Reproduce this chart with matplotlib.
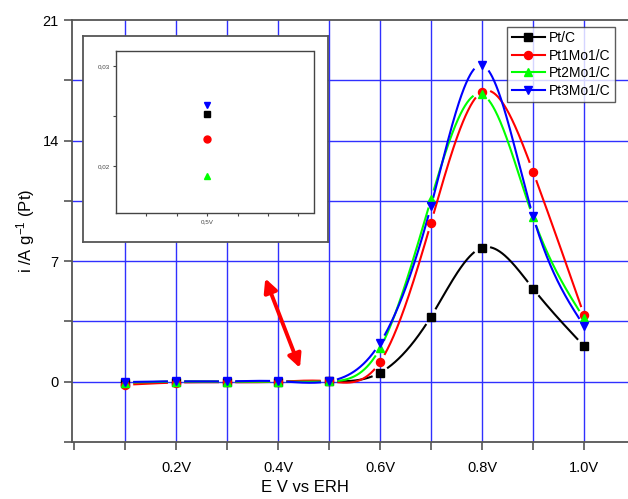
import numpy as np
import matplotlib
matplotlib.use("Agg")
import matplotlib.pyplot as plt
from matplotlib.lines import Line2D

plt.rcParams['font.family'] = ['Liberation Sans', 'DejaVu Sans']
plt.rcParams['mathtext.default'] = 'regular'

# ---------------- data ----------------
potential = [0.1, 0.2, 0.3, 0.4, 0.5, 0.6, 0.7, 0.8, 0.9, 1.0]
xtick_vals = [0.2, 0.4, 0.6, 0.8, 1.0]
xtick_labels = ["0.2V", "0.4V", "0.6V", "0.8V", "1.0V"]
ytick_vals = [0, 7, 14, 21]

series_names = ["Pt/C", "Pt1Mo1/C", "Pt2Mo1/C", "Pt3Mo1/C"]
pt_c     = [-0.05, 0.0, 0.0, 0.0, 0.0255, 0.52, 3.78, 7.78, 5.41, 2.07]
pt1mo1_c = [-0.18, -0.05, -0.03, 0.0, 0.023, 1.14, 9.23, 16.83, 12.2, 3.88]
pt2mo1_c = [-0.05, 0.0, 0.0, 0.0, 0.019, 1.94, 10.59, 16.68, 9.56, 3.68]
pt3mo1_c = [-0.02, 0.02, 0.02, 0.03, 0.0261, 2.25, 10.2, 18.38, 9.62, 3.24]
series_values = [pt_c, pt1mo1_c, pt2mo1_c, pt3mo1_c]
colors = ["#000000", "#ff0000", "#00ff00", "#0000ff"]
markers = ["s", "o", "^", "v"]

# inset: values at 0.5 V
inset_x = [0.5, 0.5, 0.5, 0.5]
inset_vals = [0.0252, 0.0227, 0.0190, 0.0261]


def natural_spline(x, y, xs):
    x = np.asarray(x, float); y = np.asarray(y, float)
    n = len(x)
    h = np.diff(x)
    A = np.zeros((n, n)); b = np.zeros(n)
    A[0, 0] = 1; A[-1, -1] = 1
    for i in range(1, n - 1):
        A[i, i - 1] = h[i - 1]
        A[i, i] = 2 * (h[i - 1] + h[i])
        A[i, i + 1] = h[i]
        b[i] = 3 * ((y[i + 1] - y[i]) / h[i] - (y[i] - y[i - 1]) / h[i - 1])
    c = np.linalg.solve(A, b)
    out = np.empty_like(xs)
    for k, xv in enumerate(xs):
        i = min(max(np.searchsorted(x, xv) - 1, 0), n - 2)
        dx = xv - x[i]
        bi = (y[i + 1] - y[i]) / h[i] - h[i] * (2 * c[i] + c[i + 1]) / 3
        di = (c[i + 1] - c[i]) / (3 * h[i])
        out[k] = y[i] + bi * dx + c[i] * dx ** 2 + di * dx ** 3
    return out


W, H = 628, 499
fig = plt.figure(figsize=(W / 100, H / 100), dpi=100)
ax = fig.add_axes([72 / W, 1 - 442 / H, (635 - 72) / W, (442 - 20) / H])
ax.set_xlim(-0.004, 1.1)
ax.set_ylim(-3.5, 21)

# grid
for gx in np.arange(0.1, 1.05, 0.1):
    ax.axvline(gx, color="#3030ff", lw=1.0, zorder=0.5)
for gy in np.arange(0, 18, 3.5):
    ax.axhline(gy, color="#3030ff", lw=1.0, zorder=0.5)

xs = np.linspace(0.1, 1.0, 900)
gap_px = 9.0
for name, vals, col, mk in zip(series_names, series_values, colors, markers):
    ys = natural_spline(potential, vals, xs)
    pts = ax.transData.transform(np.column_stack([xs, ys]))
    mpts = ax.transData.transform(np.column_stack([potential, vals]))
    d = np.min(np.hypot(pts[:, None, 0] - mpts[None, :, 0],
                        pts[:, None, 1] - mpts[None, :, 1]), axis=1)
    ym = ys.copy()
    ym[d < gap_px] = np.nan
    ax.plot(xs, ym, color=col, lw=1.5, zorder=2)
    ax.plot(potential, vals, linestyle="none", marker=mk, color=col,
            ms=5.8, zorder=3)

# spines & ticks
ax.spines["right"].set_visible(False)
for s in ["left", "bottom", "top"]:
    ax.spines[s].set_color("#555555")
    ax.spines[s].set_linewidth(1.3)
ax.set_xticks(xtick_vals)
ax.set_xticklabels(xtick_labels)
ax.set_xticks(np.arange(0.0, 1.05, 0.1), minor=True)
ax.set_yticks(ytick_vals)
ax.set_yticks(np.arange(-3.5, 21, 3.5), minor=True)
ax.tick_params(axis="both", which="both", direction="out", colors="#555555",
               labelcolor="#000000", labelsize=10.5, width=1.2, length=5.5)
ax.tick_params(axis="x", pad=8)
ax.tick_params(axis="y", pad=4)
ax.set_xlabel("E V vs ERH", fontsize=12)
ax.set_ylabel("i /A g$^{-1}$ (Pt)", fontsize=12, labelpad=4)
ax.xaxis.set_label_coords((305 - 72) / (635 - 72), -(480 - 442) / (442 - 20))

# legend
handles = [Line2D([], [], color=c, marker=m, lw=1.5, ms=5.8) for c, m in zip(colors, markers)]
leg = fig.legend(handles, series_names, loc="upper right",
                 bbox_to_anchor=(615 / W, 1 - 27 / H), fontsize=10,
                 frameon=True, fancybox=False, edgecolor="#333333",
                 handlelength=2.4, handletextpad=0.3, labelspacing=0.25,
                 borderpad=0.3, numpoints=1, borderaxespad=0)
leg.get_frame().set_linewidth(1.0)

# red double arrow
ax.annotate("", xy=(0.443, 0.8), xytext=(0.375, 6.0),
            arrowprops=dict(arrowstyle="<|-|>", color="#ff0000", lw=2.8,
                            mutation_scale=20, shrinkA=0, shrinkB=0), zorder=4)

# inset frame
frame = fig.add_axes([83 / W, 1 - 242 / H, (328 - 83) / W, (242 - 36) / H])
frame.set_xticks([]); frame.set_yticks([])
frame.set_facecolor("white")
for s in frame.spines.values():
    s.set_color("#555555"); s.set_linewidth(1.3)
frame.set_zorder(5)

ins = fig.add_axes([116 / W, 1 - 213 / H, (313.5 - 116) / W, (213 - 51) / H])
ins.set_zorder(6)
ins.set_xlim(0.35, 0.675)
ins.set_ylim(0.0153, 0.0315)
for xv, yv, col, mk in zip(inset_x, inset_vals, colors, markers):
    ins.plot([xv], [yv], linestyle="none", marker=mk, color=col, ms=5)
ins.set_xticks([0.4, 0.5, 0.6])
ins.set_xticklabels(["", "0,5V", ""])
ins.set_xticks([0.45, 0.55, 0.65], minor=True)
ins.set_yticks([0.02, 0.03])
ins.set_yticklabels(["0,02", "0,03"])
ins.set_yticks([0.025], minor=True)
ins.tick_params(axis="both", which="both", direction="out", labelsize=4.5,
                colors="#444444", labelcolor="#444444", length=2.5, width=0.8, pad=2)
for s in ins.spines.values():
    s.set_color("#444444"); s.set_linewidth(1.0)

fig.savefig("out.png", dpi=100)
